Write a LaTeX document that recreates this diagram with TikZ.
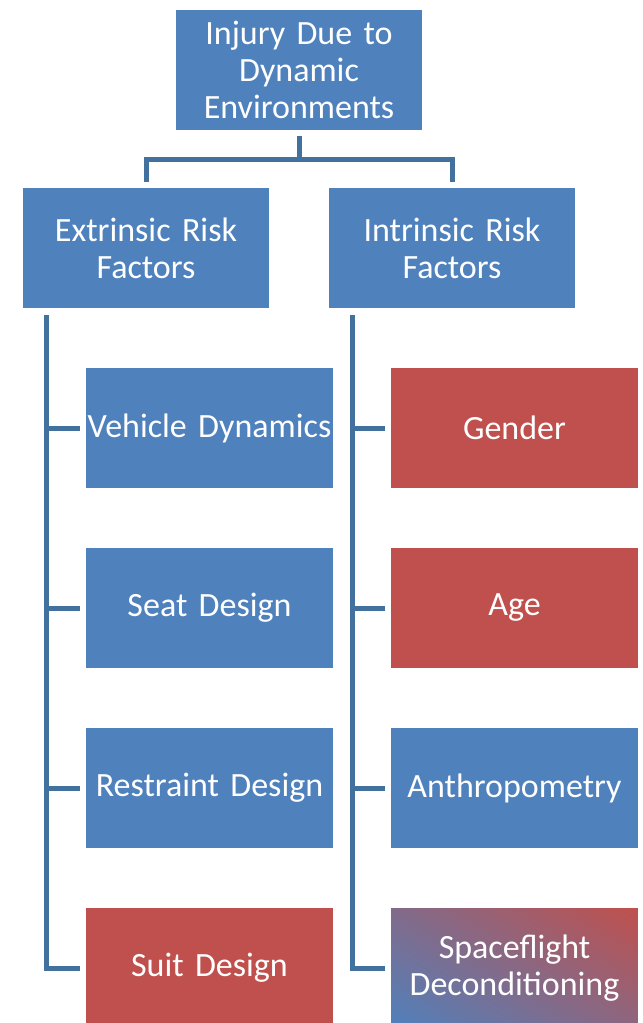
\documentclass[tikz,border=0pt]{standalone}
\usepackage{fontspec}
\setmainfont{Carlito}
\usepackage{xcolor}
\usetikzlibrary{positioning, shadings}
\definecolor{boxblue}{HTML}{4F81BD}
\definecolor{boxred}{HTML}{C0504D}
\definecolor{linkblue}{HTML}{41719C}
\tikzset{
    riskbox/.style={rectangle, text=white, minimum width=185pt, minimum height=90pt, text width=183pt, inner sep=0pt, align=center, font=\fontsize{25.5pt}{28pt}\selectfont},
    riskblue/.style={riskbox, fill=boxblue},
    riskred/.style={riskbox, fill=boxred},
    riskmix/.style={riskbox, lower left=boxblue, upper right=boxred, upper left=boxblue!55!boxred, lower right=boxblue!45!boxred},
    link/.style={draw=linkblue, line width=3.75pt}
}
\begin{document}
\begin{tikzpicture}[x=0.75pt, y=-0.75pt, node distance=44.6pt]
            \useasboundingbox (0,0) rectangle (642,1023);
            \node (top) [riskblue] at (299,70) {Injury Due to\\Dynamic\\Environments};
            \node (ext) [riskblue] at (146,248) {Extrinsic Risk\\Factors};
            \node (int) [riskblue] at (452,248) {Intrinsic Risk\\Factors};
            
            % extrinsic column
            \node (vehicle) [riskblue] at (209.5,428) {Vehicle Dynamics};
            \node (seat) [riskblue, below=of vehicle] {Seat Design};
            \node (restraint) [riskblue, below=of seat] {Restraint Design};
            \node (suit) [riskred, below=of restraint] {Suit Design};
            
            % intrinsic column
            \node (gender) [riskred] at (514.5,428) {Gender};
            \node (age) [riskred, below=of gender] {Age};
            \node (anthro) [riskblue, below=of age] {Anthropometry};
            \node (decond) [riskmix, below=of anthro] {Spaceflight\\Deconditioning};
            
            \coordinate (split) at (299,160);
            \draw[link, shorten <=4pt] (top) -- (split);
            \draw[link, shorten >=4.5pt] (split) -| (ext.north);
            \draw[link, shorten >=4.5pt] (split) -| (int.north);
            
            \coordinate (spineL) at ([xshift=18pt, yshift=-5.25pt]ext.south west);
            \coordinate (spineR) at ([xshift=18pt, yshift=-5.25pt]int.south west);
            \draw[link, shorten >=4.5pt] (spineL) |- (suit.west);
            \draw[link, shorten >=4.5pt] (spineL |- vehicle.west) -- (vehicle.west);
            \draw[link, shorten >=4.5pt] (spineL |- seat.west) -- (seat.west);
            \draw[link, shorten >=4.5pt] (spineL |- restraint.west) -- (restraint.west);
            \draw[link, shorten >=4.5pt] (spineR) |- (decond.west);
            \draw[link, shorten >=4.5pt] (spineR |- gender.west) -- (gender.west);
            \draw[link, shorten >=4.5pt] (spineR |- age.west) -- (age.west);
            \draw[link, shorten >=4.5pt] (spineR |- anthro.west) -- (anthro.west);
        \end{tikzpicture}
\end{document}
